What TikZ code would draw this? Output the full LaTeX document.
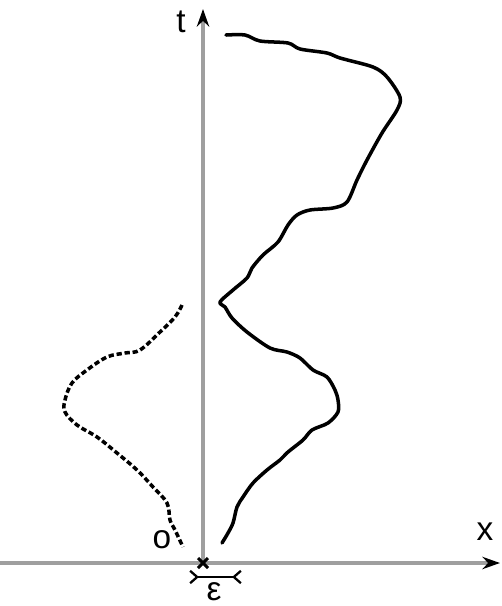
\documentclass[tikz,border=0pt]{standalone}
\usepackage{fontspec}
\setmainfont{Liberation Sans}
\usetikzlibrary{arrows.meta,calc}

\begin{document}
\begin{tikzpicture}[x=0.02cm, y=-0.02cm,
    axis/.style={draw=gray!75, line width=2.2pt, -{Stealth[black, length=10pt, width=7pt]}},
    walk/.style={line width=2pt, line cap=round, line join=round},
    ghost/.style={line width=2pt, dash pattern=on 3pt off 1.6pt},
    lbl/.style={font=\fontsize{19}{22}\selectfont, inner sep=0pt}
]
\useasboundingbox (0,0) rectangle (502,606);

% Axes
\coordinate (orig) at (203,563);
\coordinate (xend) at (500,563);
\coordinate (xstart) at (0,563);
\coordinate (tend) at (203,9);
\draw[axis] (xstart) -- (xend);
\draw[axis] (orig) -- (tend);

% Labels
\node[lbl] (tlbl) at (181,22) {t};
\node[lbl] (xlbl) at (485,532) {x};
\node[lbl] (olbl) at (162,540) {o};
\node[lbl] (elbl) at (214,592) {ε};

% Origin mark
\draw[line width=1.8pt] ($(orig)+(-5,-5)$) -- ($(orig)+(5,5)$)
  ($(orig)+(-5,5)$) -- ($(orig)+(5,-5)$);

% Width epsilon
\coordinate (eleft) at (189,577);
\coordinate (eright) at (242,577);
\draw[line width=1.3pt, {Straight Barb[reversed, length=4pt, width=7pt]}-{Straight Barb[reversed, length=4pt, width=7pt]}] (eleft) -- (eright);

% Path of the particle
\draw[walk] plot[smooth, tension=0.5] coordinates {
  (226,35) (245,35) (260,41) (288,43) (300,49) (327,53) (340,58)
  (373,67) (387,77) (400,97) (397,110) (382,133) (367,160) (357,180)
  (347,202) (333,208) (310,210) (297,215) (288,225) (278,242)
  (263,255) (252,268) (247,278) (233,290) (220,302) (225,307)
  (232,318) (247,332) (270,348) (287,352) (300,358) (313,370)
  (327,377) (335,390) (338,400) (338,412) (328,423) (312,430)
  (303,440) (288,452) (280,460) (267,470) (253,483) (243,497)
  (237,507) (233,523) (228,533) (222,543)};

% Mirror path
\draw[ghost] plot[smooth, tension=0.6] coordinates {
  (182,305) (175,317) (160,332) (140,350) (125,353) (107,357)
  (87,370) (72,383) (65,400) (65,412) (77,425) (97,437) (117,453)
  (137,470) (153,487) (167,503) (170,520) (175,530) (183,547)};

\end{tikzpicture}
\end{document}
